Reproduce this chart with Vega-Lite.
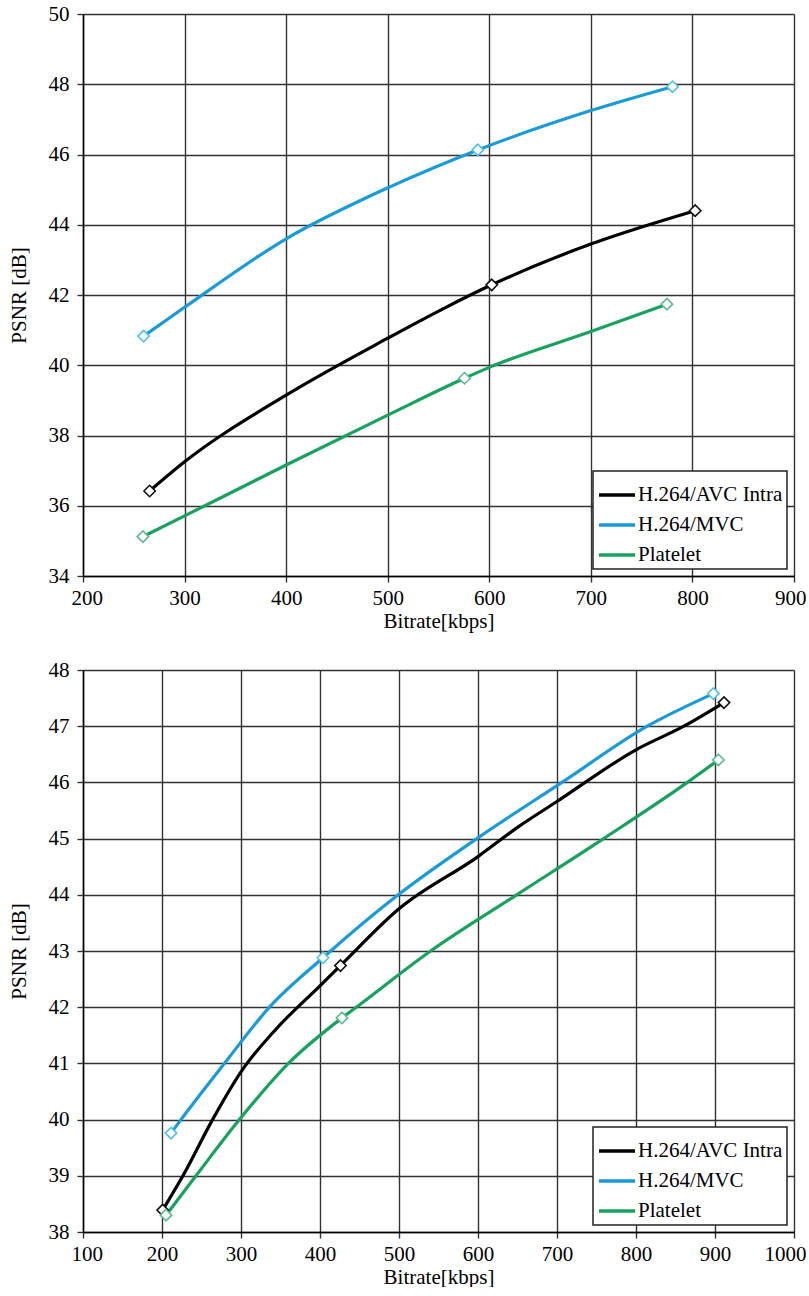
{
  "$schema": "https://vega.github.io/schema/vega-lite/v6.json",
  "padding": {"left": 8, "top": 3, "right": 0, "bottom": 0},
  "spacing": 28,
  "datasets": {
    "topLines": [
      {"series": "H.264/AVC Intra", "bitrate": 265.6, "psnr": 36.42},
      {"series": "H.264/AVC Intra", "bitrate": 300, "psnr": 37.25},
      {"series": "H.264/AVC Intra", "bitrate": 400, "psnr": 39.15},
      {"series": "H.264/AVC Intra", "bitrate": 500, "psnr": 40.77},
      {"series": "H.264/AVC Intra", "bitrate": 554, "psnr": 41.6},
      {"series": "H.264/AVC Intra", "bitrate": 602.4, "psnr": 42.29},
      {"series": "H.264/AVC Intra", "bitrate": 700, "psnr": 43.45},
      {"series": "H.264/AVC Intra", "bitrate": 802.7, "psnr": 44.4},
      {"series": "H.264/MVC", "bitrate": 259.7, "psnr": 40.83},
      {"series": "H.264/MVC", "bitrate": 300, "psnr": 41.65},
      {"series": "H.264/MVC", "bitrate": 400, "psnr": 43.6},
      {"series": "H.264/MVC", "bitrate": 500, "psnr": 45.05},
      {"series": "H.264/MVC", "bitrate": 588.7, "psnr": 46.13},
      {"series": "H.264/MVC", "bitrate": 700, "psnr": 47.25},
      {"series": "H.264/MVC", "bitrate": 780.4, "psnr": 47.93},
      {"series": "Platelet", "bitrate": 259, "psnr": 35.12},
      {"series": "Platelet", "bitrate": 300, "psnr": 35.71},
      {"series": "Platelet", "bitrate": 400, "psnr": 37.16},
      {"series": "Platelet", "bitrate": 500, "psnr": 38.58},
      {"series": "Platelet", "bitrate": 575.6, "psnr": 39.63},
      {"series": "Platelet", "bitrate": 600, "psnr": 39.94},
      {"series": "Platelet", "bitrate": 700, "psnr": 40.96},
      {"series": "Platelet", "bitrate": 774.9, "psnr": 41.74}
    ],
    "topMarkers": [
      {"series": "H.264/AVC Intra", "bitrate": 265.6, "psnr": 36.42},
      {"series": "H.264/AVC Intra", "bitrate": 602.4, "psnr": 42.29},
      {"series": "H.264/AVC Intra", "bitrate": 802.7, "psnr": 44.4},
      {"series": "H.264/MVC", "bitrate": 259.7, "psnr": 40.83},
      {"series": "H.264/MVC", "bitrate": 588.7, "psnr": 46.13},
      {"series": "H.264/MVC", "bitrate": 780.4, "psnr": 47.93},
      {"series": "Platelet", "bitrate": 259, "psnr": 35.12},
      {"series": "Platelet", "bitrate": 575.6, "psnr": 39.63},
      {"series": "Platelet", "bitrate": 774.9, "psnr": 41.74}
    ],
    "bottomLines": [
      {"series": "H.264/AVC Intra", "bitrate": 200.8, "psnr": 38.39},
      {"series": "H.264/AVC Intra", "bitrate": 226.5, "psnr": 39.0},
      {"series": "H.264/AVC Intra", "bitrate": 264, "psnr": 40.0},
      {"series": "H.264/AVC Intra", "bitrate": 300, "psnr": 40.85},
      {"series": "H.264/AVC Intra", "bitrate": 345, "psnr": 41.62},
      {"series": "H.264/AVC Intra", "bitrate": 400, "psnr": 42.38},
      {"series": "H.264/AVC Intra", "bitrate": 425.9, "psnr": 42.74},
      {"series": "H.264/AVC Intra", "bitrate": 500, "psnr": 43.75},
      {"series": "H.264/AVC Intra", "bitrate": 600, "psnr": 44.68},
      {"series": "H.264/AVC Intra", "bitrate": 650, "psnr": 45.2},
      {"series": "H.264/AVC Intra", "bitrate": 700, "psnr": 45.66},
      {"series": "H.264/AVC Intra", "bitrate": 800, "psnr": 46.58},
      {"series": "H.264/AVC Intra", "bitrate": 860.6, "psnr": 47.0},
      {"series": "H.264/AVC Intra", "bitrate": 911.4, "psnr": 47.42},
      {"series": "H.264/MVC", "bitrate": 211.4, "psnr": 39.76},
      {"series": "H.264/MVC", "bitrate": 224, "psnr": 40.0},
      {"series": "H.264/MVC", "bitrate": 279, "psnr": 41.0},
      {"series": "H.264/MVC", "bitrate": 336, "psnr": 42.0},
      {"series": "H.264/MVC", "bitrate": 403.8, "psnr": 42.88},
      {"series": "H.264/MVC", "bitrate": 499, "psnr": 44.0},
      {"series": "H.264/MVC", "bitrate": 598.5, "psnr": 45.0},
      {"series": "H.264/MVC", "bitrate": 706.3, "psnr": 46.0},
      {"series": "H.264/MVC", "bitrate": 814.2, "psnr": 47.0},
      {"series": "H.264/MVC", "bitrate": 898, "psnr": 47.58},
      {"series": "Platelet", "bitrate": 205.1, "psnr": 38.3},
      {"series": "Platelet", "bitrate": 243, "psnr": 39.0},
      {"series": "Platelet", "bitrate": 298, "psnr": 40.0},
      {"series": "Platelet", "bitrate": 360, "psnr": 41.0},
      {"series": "Platelet", "bitrate": 427.9, "psnr": 41.81},
      {"series": "Platelet", "bitrate": 446, "psnr": 42.0},
      {"series": "Platelet", "bitrate": 540, "psnr": 43.0},
      {"series": "Platelet", "bitrate": 649, "psnr": 44.0},
      {"series": "Platelet", "bitrate": 759, "psnr": 45.0},
      {"series": "Platelet", "bitrate": 865, "psnr": 46.0},
      {"series": "Platelet", "bitrate": 904.3, "psnr": 46.4}
    ],
    "bottomMarkers": [
      {"series": "H.264/AVC Intra", "bitrate": 200.8, "psnr": 38.39},
      {"series": "H.264/AVC Intra", "bitrate": 425.9, "psnr": 42.74},
      {"series": "H.264/AVC Intra", "bitrate": 911.4, "psnr": 47.42},
      {"series": "H.264/MVC", "bitrate": 211.4, "psnr": 39.76},
      {"series": "H.264/MVC", "bitrate": 403.8, "psnr": 42.88},
      {"series": "H.264/MVC", "bitrate": 898, "psnr": 47.58},
      {"series": "Platelet", "bitrate": 205.1, "psnr": 38.3},
      {"series": "Platelet", "bitrate": 427.9, "psnr": 41.81},
      {"series": "Platelet", "bitrate": 904.3, "psnr": 46.4}
    ]
  },
  "vconcat": [
    {
      "width": 711,
      "height": 562,
      "layer": [
        {
          "data": {"name": "topLines"},
          "mark": {"type": "line", "interpolate": "monotone", "strokeWidth": 3.2},
          "encoding": {
            "x": {"field": "bitrate", "type": "quantitative", "scale": {"domain": [200, 900], "nice": false, "zero": false}, "axis": {"title": "Bitrate[kbps]", "format": "d", "labelFont": "serif", "titleFont": "serif", "values": [200, 300, 400, 500, 600, 700, 800, 900]}},
            "y": {"field": "psnr", "type": "quantitative", "scale": {"domain": [34, 50], "nice": false, "zero": false}, "axis": {"title": "PSNR [dB]", "format": "d", "labelFont": "serif", "titleFont": "serif", "values": [34, 36, 38, 40, 42, 44, 46, 48, 50]}},
            "color": {"field": "series", "type": "nominal", "scale": {"domain": ["H.264/AVC Intra", "H.264/MVC", "Platelet"], "range": ["#000000", "#1a9bd7", "#18a15f"]}, "legend": {"orient": "bottom-right", "title": null}}
          }
        },
        {
          "data": {"name": "topMarkers"},
          "mark": {"type": "point", "shape": "diamond", "filled": true, "fill": "white", "size": 130, "strokeWidth": 1.6, "opacity": 1},
          "encoding": {
            "x": {"field": "bitrate", "type": "quantitative"},
            "y": {"field": "psnr", "type": "quantitative"},
            "stroke": {"field": "series", "type": "nominal", "scale": {"domain": ["H.264/AVC Intra", "H.264/MVC", "Platelet"], "range": ["#111111", "#4fc1e4", "#5fba94"]}, "legend": null}
          }
        }
      ]
    },
    {
      "width": 711,
      "height": 562,
      "layer": [
        {
          "data": {"name": "bottomLines"},
          "mark": {"type": "line", "interpolate": "monotone", "strokeWidth": 3.2},
          "encoding": {
            "x": {"field": "bitrate", "type": "quantitative", "scale": {"domain": [100, 1000], "nice": false, "zero": false}, "axis": {"title": "Bitrate[kbps]", "format": "d", "labelFont": "serif", "titleFont": "serif", "values": [100, 200, 300, 400, 500, 600, 700, 800, 900, 1000]}},
            "y": {"field": "psnr", "type": "quantitative", "scale": {"domain": [38, 48], "nice": false, "zero": false}, "axis": {"title": "PSNR [dB]", "format": "d", "labelFont": "serif", "titleFont": "serif", "values": [38, 39, 40, 41, 42, 43, 44, 45, 46, 47, 48]}},
            "color": {"field": "series", "type": "nominal", "scale": {"domain": ["H.264/AVC Intra", "H.264/MVC", "Platelet"], "range": ["#000000", "#1a9bd7", "#18a15f"]}, "legend": {"orient": "bottom-right", "title": null}}
          }
        },
        {
          "data": {"name": "bottomMarkers"},
          "mark": {"type": "point", "shape": "diamond", "filled": true, "fill": "white", "size": 130, "strokeWidth": 1.6, "opacity": 1},
          "encoding": {
            "x": {"field": "bitrate", "type": "quantitative"},
            "y": {"field": "psnr", "type": "quantitative"},
            "stroke": {"field": "series", "type": "nominal", "scale": {"domain": ["H.264/AVC Intra", "H.264/MVC", "Platelet"], "range": ["#111111", "#4fc1e4", "#5fba94"]}, "legend": null}
          }
        }
      ]
    }
  ],
  "resolve": {"scale": {"color": "independent", "stroke": "independent", "x": "independent", "y": "independent"}},
  "config": {
    "font": "Liberation Serif",
    "view": {"stroke": null},
    "axis": {
      "domainColor": "#000000",
      "domainWidth": 1.5,
      "grid": true,
      "gridColor": "#333333",
      "gridWidth": 1.4,
      "gridOpacity": 1,
      "tickColor": "#333333",
      "tickSize": 6,
      "tickWidth": 1.4,
      "labelFontSize": 21,
      "labelColor": "#000000",
      "labelOverlap": false,
      "titleFontSize": 21,
      "titleFontWeight": "normal",
      "titleColor": "#000000"
    },
    "axisX": {"labelPadding": 5, "titlePadding": 2, "labelFlush": true, "labelFlushOffset": 12},
    "axisY": {"labelPadding": 8, "titlePadding": 19, "labelFlush": false},
    "legend": {
      "offset": 7,
      "symbolType": "stroke",
      "symbolSize": 1296,
      "symbolStrokeWidth": 3.5,
      "labelFont": "Liberation Serif",
      "labelFontSize": 21,
      "labelColor": "#000000",
      "labelOffset": 1,
      "labelLimit": 300,
      "rowPadding": -4,
      "padding": 4,
      "strokeColor": "#222222",
      "strokeWidth": 1.5,
      "fillColor": "#ffffff",
      "cornerRadius": 0
    }
  }
}
